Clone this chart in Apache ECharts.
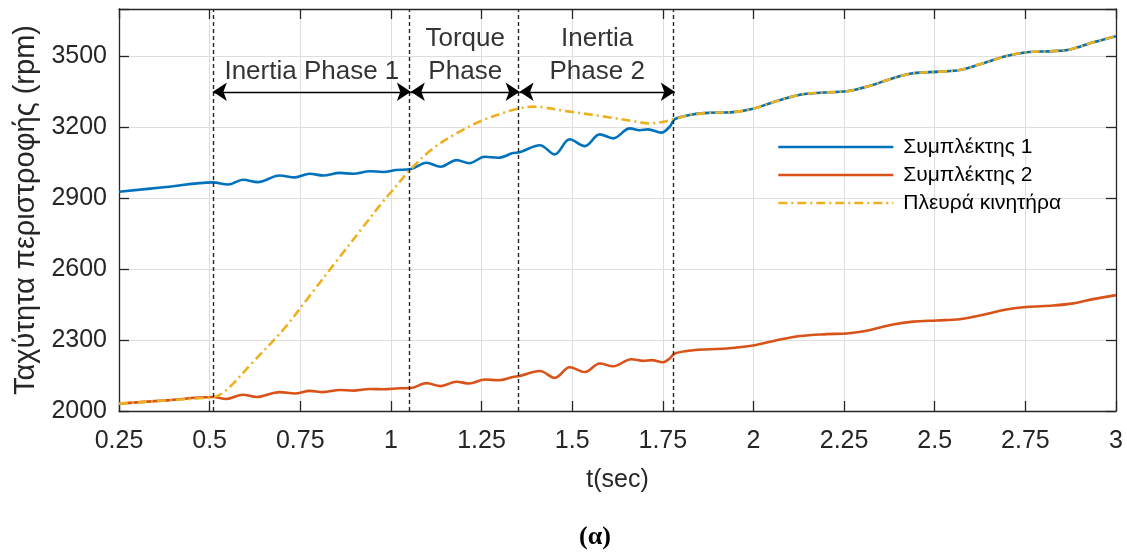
<!DOCTYPE html>
<html>
<head>
<meta charset="utf-8">
<script src="https://cdn.jsdelivr.net/npm/echarts@6/dist/echarts.min.js"></script>
<style>
  html, body { margin: 0; padding: 0; background: #ffffff; }
  #chart { width: 1127px; height: 552px; }
</style>
</head>
<body>
<div id="chart"></div>
<script>
// Time axis (s) and speeds (rpm) for each shaft
const clutch1T = [0.25, 0.38, 0.509, 0.551, 0.592, 0.633, 0.693, 0.735, 0.776, 0.813, 0.859, 0.896, 0.942, 0.978, 1.015, 1.055,
  1.098, 1.137, 1.181, 1.216, 1.259, 1.296, 1.337, 1.355, 1.411, 1.452, 1.493, 1.535, 1.576, 1.613, 1.659, 1.686, 1.709,
  1.746, 1.769, 1.783, 1.833, 1.880, 1.944, 1.999, 2.054, 2.128, 2.183, 2.257, 2.312, 2.385, 2.440, 2.514, 2.569, 2.624,
  2.698, 2.753, 2.827, 2.873, 2.937, 3.0];
const clutch1Rpm = [2927, 2947, 2967, 2958, 2978, 2968, 2996, 2988, 3003, 2996, 3007, 3003, 3014, 3011, 3019, 3023,
  3050, 3033, 3061, 3048, 3075, 3071, 3091, 3094, 3124, 3085, 3149, 3120, 3170, 3153, 3195, 3187, 3191,
  3177, 3202, 3234, 3254, 3261, 3264, 3278, 3306, 3337, 3346, 3352, 3371, 3407, 3428, 3435, 3442, 3466,
  3501, 3517, 3522, 3529, 3559, 3585];

const clutch2T = [0.25, 0.38, 0.509, 0.546, 0.592, 0.629, 0.693, 0.735, 0.776, 0.813, 0.859, 0.896, 0.942, 0.978, 1.024, 1.055,
  1.098, 1.137, 1.181, 1.216, 1.259, 1.296, 1.337, 1.355, 1.411, 1.452, 1.493, 1.535, 1.576, 1.613, 1.663, 1.696, 1.719,
  1.751, 1.769, 1.783, 1.833, 1.880, 1.926, 1.999, 2.064, 2.128, 2.202, 2.257, 2.312, 2.385, 2.440, 2.505, 2.569, 2.624,
  2.698, 2.753, 2.827, 2.882, 2.937, 3.0];
const clutch2Rpm = [2031, 2045, 2059, 2051, 2069, 2059, 2080, 2074, 2085, 2080, 2089, 2086, 2093, 2092, 2096, 2097,
  2118, 2105, 2124, 2116, 2133, 2130, 2144, 2148, 2169, 2140, 2185, 2165, 2201, 2189, 2219, 2212, 2215,
  2206, 2222, 2243, 2257, 2261, 2264, 2277, 2299, 2317, 2325, 2328, 2339, 2366, 2378, 2383, 2388, 2404,
  2429, 2440, 2446, 2455, 2473, 2490];

const engineT = [0.25, 0.38, 0.509, 0.535, 0.565, 0.611, 0.702, 0.78, 0.85, 0.92, 0.974, 1.0, 1.055, 1.116, 1.181, 1.254,
  1.319, 1.355, 1.392, 1.420, 1.484, 1.576, 1.668, 1.714, 1.751, 1.783, 1.833, 1.880, 1.944, 1.999, 2.054, 2.128,
  2.183, 2.257, 2.312, 2.385, 2.440, 2.514, 2.569, 2.624, 2.698, 2.753, 2.827, 2.873, 2.937, 3.0];
const engineRpm = [2031, 2045, 2059, 2075, 2116, 2193, 2342, 2495, 2634, 2772, 2878, 2925, 3023, 3110, 3174, 3230,
  3265, 3280, 3287, 3284, 3268, 3248, 3226, 3216, 3223, 3236, 3254, 3261, 3264, 3278, 3306, 3337,
  3346, 3352, 3371, 3407, 3428, 3435, 3442, 3466, 3501, 3517, 3522, 3529, 3559, 3585];

// Phase boundaries (s) and the annotation texts
const phaseBounds = [0.509, 1.055, 1.355, 1.783];
const arrowLevel = 3350;
const phaseLabelT = [0.782, 1.205, 1.569];
const phaseLabelRpm = [3434, 3506, 3506];
const phaseLabelText = ['Inertia Phase 1', 'Torque\nPhase', 'Inertia\nPhase 2'];

// Axis ranges and ticks
const xMin = 0.25, xMax = 3, xStep = 0.25;
const yMin = 2000, yMax = 3700, yStep = 300, yLastLabel = 3500;

const seriesNames = ['Συμπλέκτης 1', 'Συμπλέκτης 2', 'Πλευρά κινητήρα'];
const zip = (a, b) => a.map((v, i) => [v, b[i]]);

const axisColor = '#262626';
const font = 'Liberation Sans, Arial, Helvetica, sans-serif';

const chart = echarts.init(document.getElementById('chart'), null, { renderer: 'canvas' });

const arrowPairs = [];
for (let i = 0; i < phaseBounds.length - 1; i++) {
  arrowPairs.push([{ coord: [phaseBounds[i], arrowLevel] }, { coord: [phaseBounds[i + 1], arrowLevel] }]);
}

chart.setOption({
  animation: false,
  backgroundColor: '#ffffff',
  textStyle: { fontFamily: font },
  grid: { left: 119, right: 11, top: 9, bottom: 141, containLabel: false },
  legend: {
    orient: 'vertical',
    left: 777,
    top: 133,
    padding: 0,
    itemGap: 0,
    itemWidth: 115,
    itemHeight: 2,
    data: seriesNames,
    itemStyle: { opacity: 0 },
    lineStyle: { width: 2.6 },
    textStyle: { fontSize: 21, color: '#000', lineHeight: 28, fontFamily: font, padding: [0, 0, 0, 5] }
  },
  xAxis: [{
    type: 'value', min: xMin, max: xMax, interval: xStep,
    name: 't(sec)', nameLocation: 'middle', nameGap: 57,
    nameTextStyle: { fontSize: 25, color: axisColor, fontFamily: font },
    axisLine: { show: true, onZero: false, lineStyle: { color: axisColor, width: 1.3 } },
    axisTick: { show: true, inside: true, length: 10, lineStyle: { color: axisColor, width: 1.3 } },
    axisLabel: { fontSize: 25, color: axisColor, margin: 18, fontFamily: font },
    splitLine: { show: true, lineStyle: { color: '#dedede', width: 1 } }
  }, {
    type: 'value', min: xMin, max: xMax, interval: xStep, position: 'top',
    axisLine: { show: true, onZero: false, lineStyle: { color: axisColor, width: 1.3 } },
    axisTick: { show: true, inside: true, length: 10, lineStyle: { color: axisColor, width: 1.3 } },
    axisLabel: { show: false }, splitLine: { show: false }
  }],
  yAxis: [{
    type: 'value', min: yMin, max: yMax, interval: yStep,
    name: 'Ταχύτητα περιστροφής (rpm)', nameLocation: 'middle', nameGap: 74,
    nameTextStyle: { fontSize: 29, color: axisColor, fontFamily: font },
    axisLine: { show: true, onZero: false, lineStyle: { color: axisColor, width: 1.3 } },
    axisTick: { show: true, inside: true, length: 10, lineStyle: { color: axisColor, width: 1.3 } },
    axisLabel: { fontSize: 25, color: axisColor, margin: 12, fontFamily: font,
      formatter: v => (v > yLastLabel ? '' : String(v)) },
    splitLine: { show: true, lineStyle: { color: '#dedede', width: 1 } }
  }, {
    type: 'value', min: yMin, max: yMax, interval: yStep, position: 'right',
    axisLine: { show: true, onZero: false, lineStyle: { color: axisColor, width: 1.3 } },
    axisTick: { show: true, inside: true, length: 10, lineStyle: { color: axisColor, width: 1.3 } },
    axisLabel: { show: false }, splitLine: { show: false }
  }],
  graphic: [{
    type: 'text', x: 595, y: 537,
    style: { text: '(α)', textAlign: 'center', textVerticalAlign: 'middle',
      font: 'bold 26px "Liberation Serif", "Times New Roman", serif', fill: '#000' }
  }],
  series: [
    {
      name: seriesNames[0], type: 'line', data: zip(clutch1T, clutch1Rpm),
      symbol: 'none', smooth: 0.35, z: 2,
      lineStyle: { color: '#0072BD', width: 2.6 }, itemStyle: { color: '#0072BD' }
    },
    {
      name: seriesNames[1], type: 'line', data: zip(clutch2T, clutch2Rpm),
      symbol: 'none', smooth: 0.35, z: 3,
      lineStyle: { color: '#D95319', width: 2.6 }, itemStyle: { color: '#D95319' }
    },
    {
      name: seriesNames[2], type: 'line', data: zip(engineT, engineRpm),
      symbol: 'none', smooth: 0.35, z: 4,
      lineStyle: { color: '#EDB120', width: 2.6, type: [9, 4, 2, 4] }, itemStyle: { color: '#EDB120' }
    },
    {
      // phase boundaries: dashed verticals
      name: 'bounds', type: 'scatter', z: 5, silent: true,
      data: phaseBounds.map(b => [b, arrowLevel]),
      symbolSize: 0,
      itemStyle: { color: 'rgba(0,0,0,0)' },
      markLine: {
        silent: true, symbol: ['none', 'none'], animation: false,
        label: { show: false },
        lineStyle: { type: [4, 3], color: '#262626', width: 1.4 },
        data: phaseBounds.map(b => ({ xAxis: b }))
      }
    },
    {
      // phase names with double-headed arrows spanning each phase
      name: 'phases', type: 'scatter', z: 6, silent: true,
      data: phaseLabelT.map((t, i) => [t, phaseLabelRpm[i], phaseLabelText[i]]),
      symbolSize: 0,
      itemStyle: { color: 'rgba(0,0,0,0)' },
      label: {
        show: true, position: 'inside', formatter: p => p.data[2],
        fontSize: 26, lineHeight: 33, color: '#000', fontFamily: font, align: 'center'
      },
      markLine: {
        silent: true, animation: false,
        symbol: ['arrow', 'arrow'],
        symbolSize: 14,
        label: { show: false },
        lineStyle: { type: 'solid', color: '#000', width: 1.3 },
        itemStyle: { color: '#000' },
        data: arrowPairs
      }
    }
  ]
});
</script>
</body>
</html>
